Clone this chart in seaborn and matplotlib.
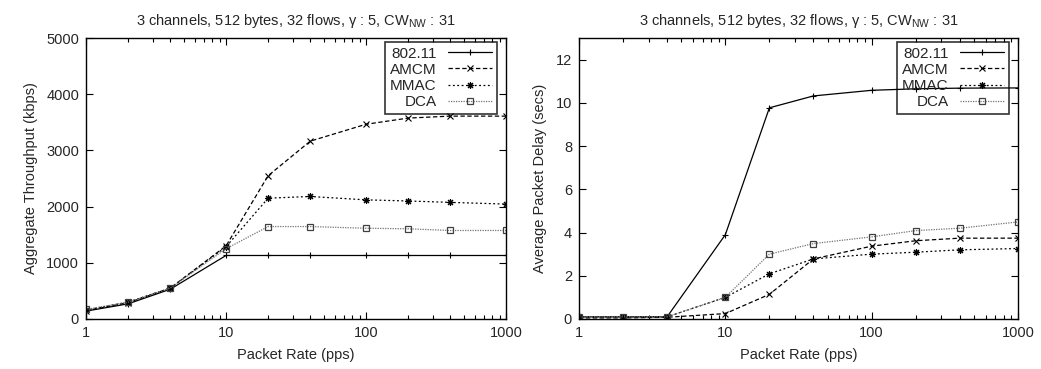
import numpy as np
import pandas as pd
import matplotlib
matplotlib.use("Agg")
import matplotlib.pyplot as plt
import seaborn as sns
from matplotlib.ticker import FixedLocator, FixedFormatter, LogLocator, NullFormatter

# ---- data ----
packet_rate = [1, 2, 4, 10, 20, 40, 100, 200, 400, 1000]
series_names = ["802.11", "AMCM", "MMAC", "DCA"]

thr_80211 = [140, 270, 530, 1130, 1130, 1130, 1130, 1130, 1130, 1130]
thr_amcm = [150, 290, 550, 1300, 2550, 3165, 3465, 3575, 3610, 3610]
thr_mmac = [160, 300, 550, 1285, 2150, 2180, 2120, 2100, 2075, 2045]
thr_dca = [170, 300, 550, 1250, 1645, 1645, 1615, 1605, 1575, 1575]

del_80211 = [0.10, 0.10, 0.10, 3.9, 9.77, 10.32, 10.58, 10.65, 10.68, 10.69]
del_amcm = [0.05, 0.05, 0.08, 0.25, 1.14, 2.78, 3.37, 3.62, 3.74, 3.74]
del_mmac = [0.10, 0.10, 0.10, 1.0, 2.09, 2.78, 3.0, 3.09, 3.2, 3.26]
del_dca = [0.10, 0.10, 0.10, 1.0, 3.0, 3.49, 3.8, 4.09, 4.2, 4.49]

title_text = "3 channels, 512 bytes, 32 flows, γ : 5, CW$_{\\rm NW}$ : 31"
x_ticks = [1, 10, 100, 1000]
x_tick_labels = ["1", "10", "100", "1000"]
thr_ticks = [0, 1000, 2000, 3000, 4000, 5000]
del_ticks = [0, 2, 4, 6, 8, 10, 12]

# ---- style ----
sns.set_style("ticks")
plt.rcParams["font.family"] = ["Liberation Sans", "DejaVu Sans"]
plt.rcParams["mathtext.fontset"] = "custom"
plt.rcParams["mathtext.rm"] = "Liberation Sans"
plt.rcParams["mathtext.it"] = "Liberation Sans:italic"
plt.rcParams["mathtext.sf"] = "Liberation Sans"
FS = 10.5

styles = {
    "802.11": dict(color="black", linestyle="-", marker="+", markersize=5, mew=0.8,
                   mfc="black", mec="black"),
    "AMCM": dict(color="black", linestyle=(0, (3.5, 2)), marker="x", markersize=4, mew=0.8,
                 mfc="black", mec="black"),
    "MMAC": dict(color="black", linestyle=(0, (1.5, 2)), marker=(8, 2, 0), markersize=5, mew=0.8,
                 mfc="black", mec="black"),
    "DCA": dict(color="0.45", linestyle=(0, (1, 1)), marker="s", markersize=4.5, mew=0.9,
                mfc="none", mec="0.25"),
}

fig = plt.figure(figsize=(10.41, 3.69), dpi=100)
ax1 = fig.add_axes([86 / 1041, 50 / 369, 420 / 1041, 281 / 369])
ax2 = fig.add_axes([579 / 1041, 50 / 369, 439 / 1041, 281 / 369])


def draw(ax, ys, ylabel, ylim, yticks, width_px):
    for name, y in zip(series_names, ys):
        st = styles[name]
        sns.lineplot(x=packet_rate, y=y, ax=ax, label=name, color=st["color"],
                     linestyle=st["linestyle"], linewidth=0.9, marker=st["marker"],
                     markersize=st["markersize"], markeredgewidth=st["mew"],
                     markerfacecolor=st["mfc"], markeredgecolor=st["mec"],
                     estimator=None, errorbar=None, sort=False)
    ax.set_xscale("log")
    ax.set_xlim(1, 1000)
    ax.set_ylim(*ylim)
    ax.xaxis.set_major_locator(FixedLocator(x_ticks))
    ax.xaxis.set_major_formatter(FixedFormatter(x_tick_labels))
    ax.xaxis.set_minor_locator(LogLocator(base=10, subs=np.arange(2, 10)))
    ax.xaxis.set_minor_formatter(NullFormatter())
    ax.set_yticks(yticks)
    ax.tick_params(which="both", direction="in", top=True, right=True, labelsize=FS,
                   width=0.8, color="black", pad=5)
    ax.tick_params(which="major", length=5)
    ax.tick_params(which="minor", length=3)
    for sp in ax.spines.values():
        sp.set_visible(True)
        sp.set_color("black")
        sp.set_linewidth(1.0)
    ax.set_xlabel("Packet Rate (pps)", fontsize=FS, labelpad=6)
    ax.set_ylabel(ylabel, fontsize=FS, labelpad=6)
    ax.set_title(title_text, fontsize=FS, pad=9)
    leg = ax.legend(loc="upper right", bbox_to_anchor=(1 - 9 / width_px, 1 - 4 / 281),
                    fontsize=FS + 0.5, markerfirst=False, frameon=True,
                    fancybox=False, framealpha=None, edgecolor="black", handlelength=2.9,
                    handletextpad=0.75, labelspacing=0.14, borderpad=0.3, borderaxespad=0)
    leg.get_frame().set_linewidth(1.2)
    leg.get_frame().set_facecolor("none")


draw(ax1, [thr_80211, thr_amcm, thr_mmac, thr_dca], "Aggregate Throughput (kbps)",
     (0, 5000), thr_ticks, 420)
draw(ax2, [del_80211, del_amcm, del_mmac, del_dca], "Average Packet Delay (secs)",
     (0, 13), del_ticks, 439)

fig.savefig("out.png", dpi=100)
